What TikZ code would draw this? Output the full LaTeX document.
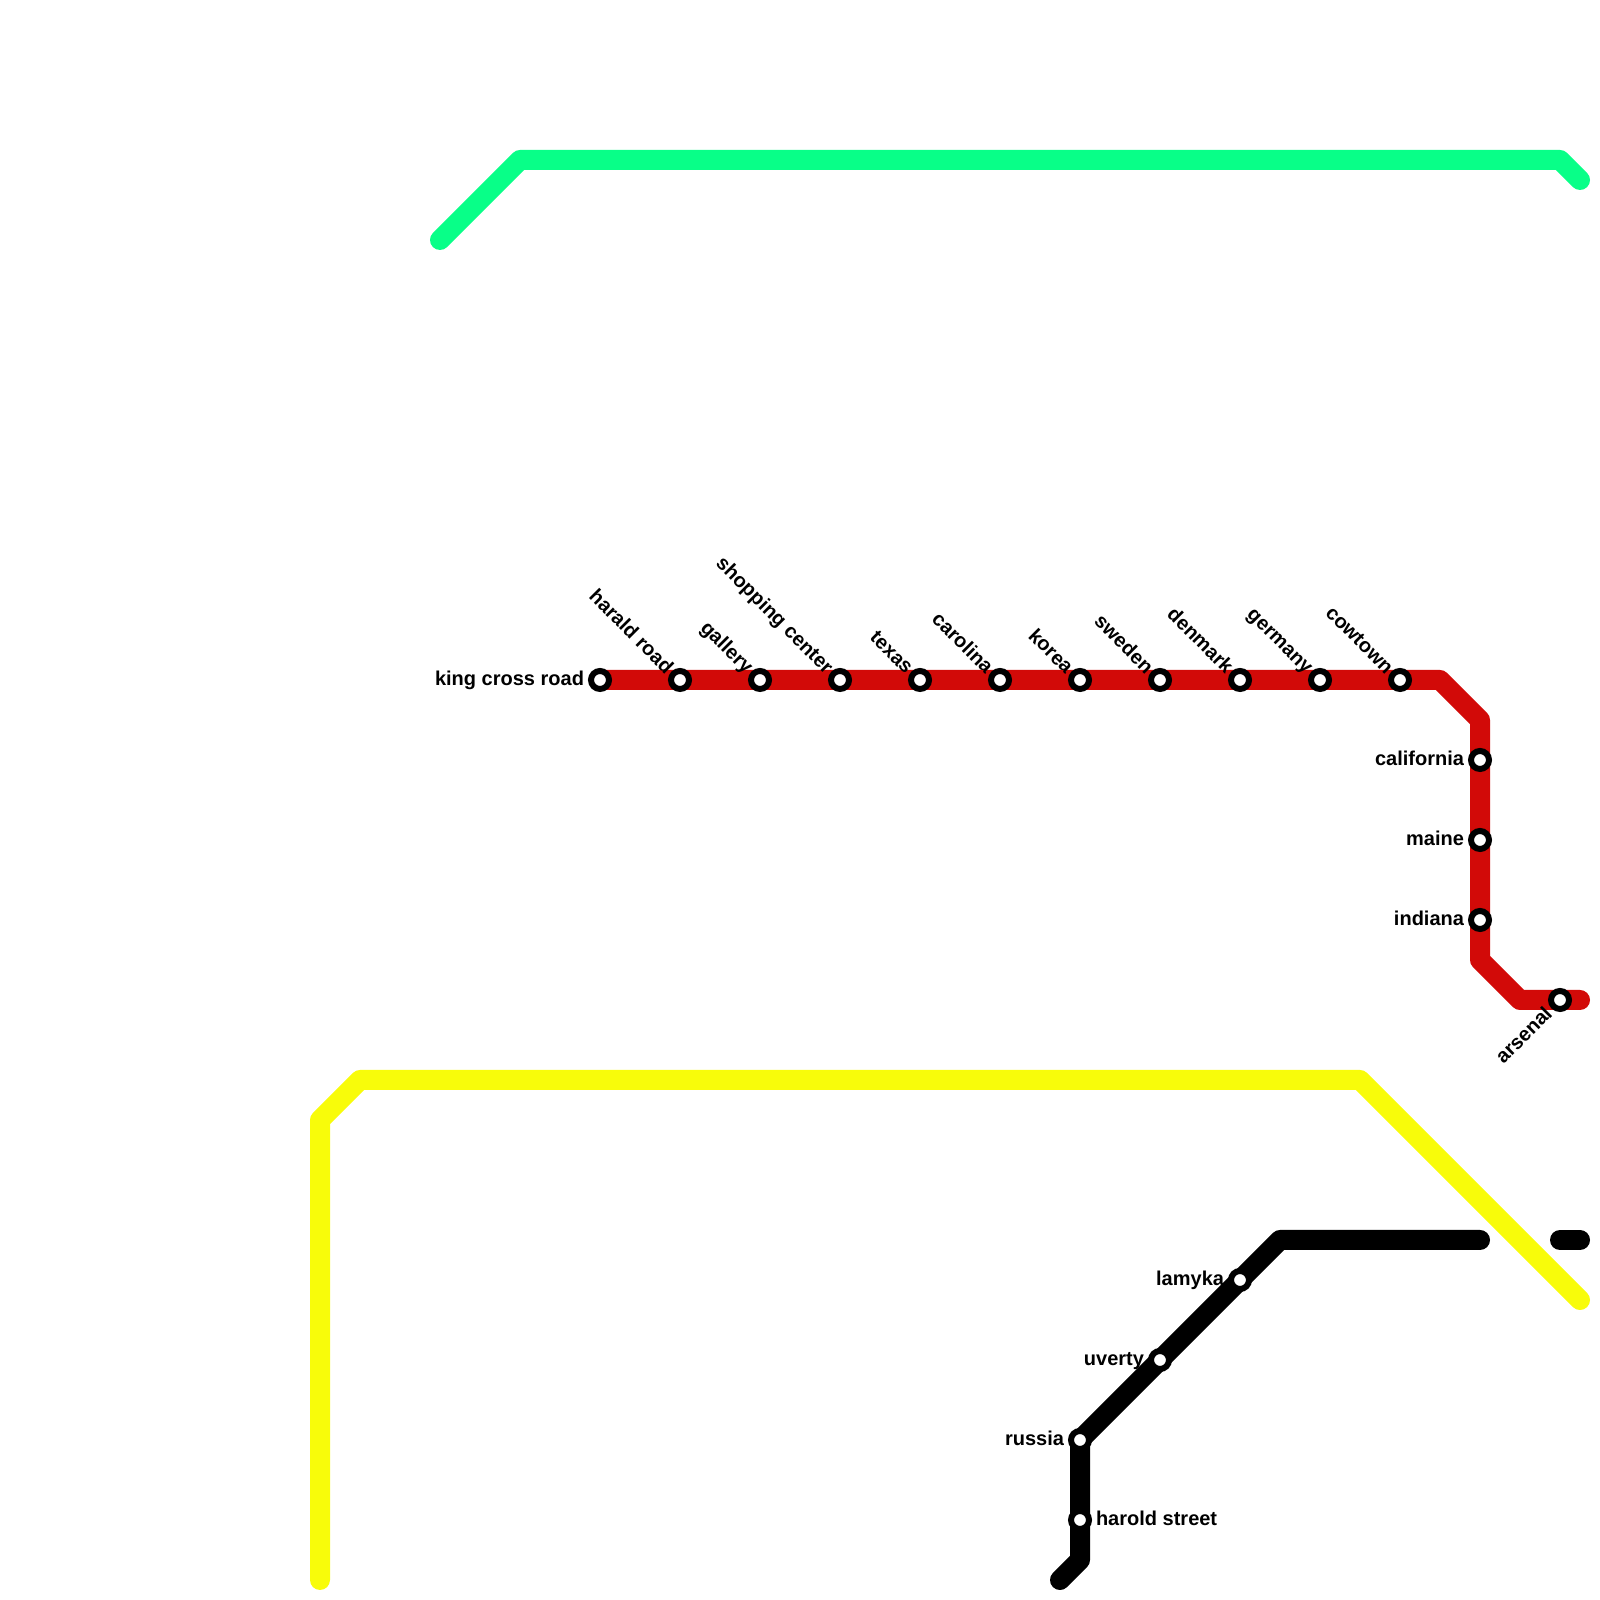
\documentclass[tikz,border=0pt]{standalone}
\usepackage{fontspec}
\setmainfont{Liberation Sans}
\definecolor{redline}{HTML}{D20A08}
\definecolor{yellowline}{HTML}{F8FC0A}
\definecolor{greenline}{HTML}{08FF88}
\tikzset{
  metroline/.style={line width=5mm, line cap=round, line join=round},
  station/.style={circle, draw=black, fill=white, line width=1.5mm, minimum size=4.5mm, inner sep=0pt, outer sep=0pt},
  stnlabel/.style={font=\fontsize{14.23}{16}\selectfont\bfseries, inner sep=0pt, outer sep=0pt}
}

\begin{document}
\begin{tikzpicture}
  \useasboundingbox (0,0) rectangle (40,40);

  % Green line
  \coordinate (G1) at (11,34);
  \coordinate (G2) at (13,36);
  \coordinate (G3) at (39,36);
  \coordinate (G4) at (39.5,35.5);
  \draw[metroline, greenline] (G1) -- (G2) -- (G3) -- (G4);

  % Yellow line
  \coordinate (Y1) at (8,0.5);
  \coordinate (Y2) at (8,12);
  \coordinate (Y3) at (9,13);
  \coordinate (Y4) at (34,13);
  \coordinate (Y5) at (39.5,7.5);
  \draw[metroline, yellowline] (Y1) -- (Y2) -- (Y3) -- (Y4) -- (Y5);

  % Red line
  \coordinate (R1) at (15,23);
  \coordinate (R2) at (36,23);
  \coordinate (R3) at (37,22);
  \coordinate (R4) at (37,16);
  \coordinate (R5) at (38,15);
  \coordinate (R6) at (39.5,15);
  \draw[metroline, redline] (R1) -- (R2) -- (R3) -- (R4) -- (R5) -- (R6);

  % Black line
  \coordinate (B1) at (26.5,0.5);
  \coordinate (B2) at (27,1);
  \coordinate (B3) at (27,4);
  \coordinate (B4) at (32,9);
  \coordinate (B5) at (37,9);
  \coordinate (B6) at (39,9);
  \coordinate (B7) at (39.5,9);
  \draw[metroline, black] (B1) -- (B2) -- (B3) -- (B4) -- (B5);
  \draw[metroline, black] (B6) -- (B7);

  % Stations on the red line
  \node[station] (kingcross) at (15,23) {};
  \node[station] (harald) at (17,23) {};
  \node[station] (gallery) at (19,23) {};
  \node[station] (shopping) at (21,23) {};
  \node[station] (texas) at (23,23) {};
  \node[station] (carolina) at (25,23) {};
  \node[station] (korea) at (27,23) {};
  \node[station] (sweden) at (29,23) {};
  \node[station] (denmark) at (31,23) {};
  \node[station] (germany) at (33,23) {};
  \node[station] (cowtown) at (35,23) {};
  \node[station] (california) at (37,21) {};
  \node[station] (maine) at (37,19) {};
  \node[station] (indiana) at (37,17) {};
  \node[station] (arsenal) at (39,15) {};

  % Stations on the black line
  \node[station] (harold) at (27,2) {};
  \node[station] (russia) at (27,4) {};
  \node[station] (uverty) at (29,6) {};
  \node[station] (lamyka) at (31,8) {};

  % Add labels
  \node[stnlabel, anchor=base east] at ([shift={(-.4,-.13)}]kingcross.center) {king cross road};
  \node[stnlabel, anchor=base east, rotate=-45] at ([shift={(-.37,.13)}]harald.center) {harald road};
  \node[stnlabel, anchor=base east, rotate=-45] at ([shift={(-.37,.13)}]gallery.center) {gallery};
  \node[stnlabel, anchor=base east, rotate=-45] at ([shift={(-.37,.13)}]shopping.center) {shopping center};
  \node[stnlabel, anchor=base east, rotate=-45] at ([shift={(-.37,.13)}]texas.center) {texas};
  \node[stnlabel, anchor=base east, rotate=-45] at ([shift={(-.37,.13)}]carolina.center) {carolina};
  \node[stnlabel, anchor=base east, rotate=-45] at ([shift={(-.37,.13)}]korea.center) {korea};
  \node[stnlabel, anchor=base east, rotate=-45] at ([shift={(-.37,.13)}]sweden.center) {sweden};
  \node[stnlabel, anchor=base east, rotate=-45] at ([shift={(-.37,.13)}]denmark.center) {denmark};
  \node[stnlabel, anchor=base east, rotate=-45] at ([shift={(-.37,.13)}]germany.center) {germany};
  \node[stnlabel, anchor=base east, rotate=-45] at ([shift={(-.37,.13)}]cowtown.center) {cowtown};
  \node[stnlabel, anchor=base east] at ([shift={(-.4,-.13)}]california.center) {california};
  \node[stnlabel, anchor=base east] at ([shift={(-.4,-.13)}]maine.center) {maine};
  \node[stnlabel, anchor=base east] at ([shift={(-.4,-.13)}]indiana.center) {indiana};
  \node[stnlabel, anchor=base east, rotate=45] at ([shift={(-.17,-.38)}]arsenal.center) {arsenal};
  \node[stnlabel, anchor=base west] at ([shift={(.4,-.13)}]harold.center) {harold street};
  \node[stnlabel, anchor=base east] at ([shift={(-.4,-.13)}]russia.center) {russia};
  \node[stnlabel, anchor=base east] at ([shift={(-.4,-.13)}]uverty.center) {uverty};
  \node[stnlabel, anchor=base east] at ([shift={(-.4,-.13)}]lamyka.center) {lamyka};
\end{tikzpicture}
\end{document}
